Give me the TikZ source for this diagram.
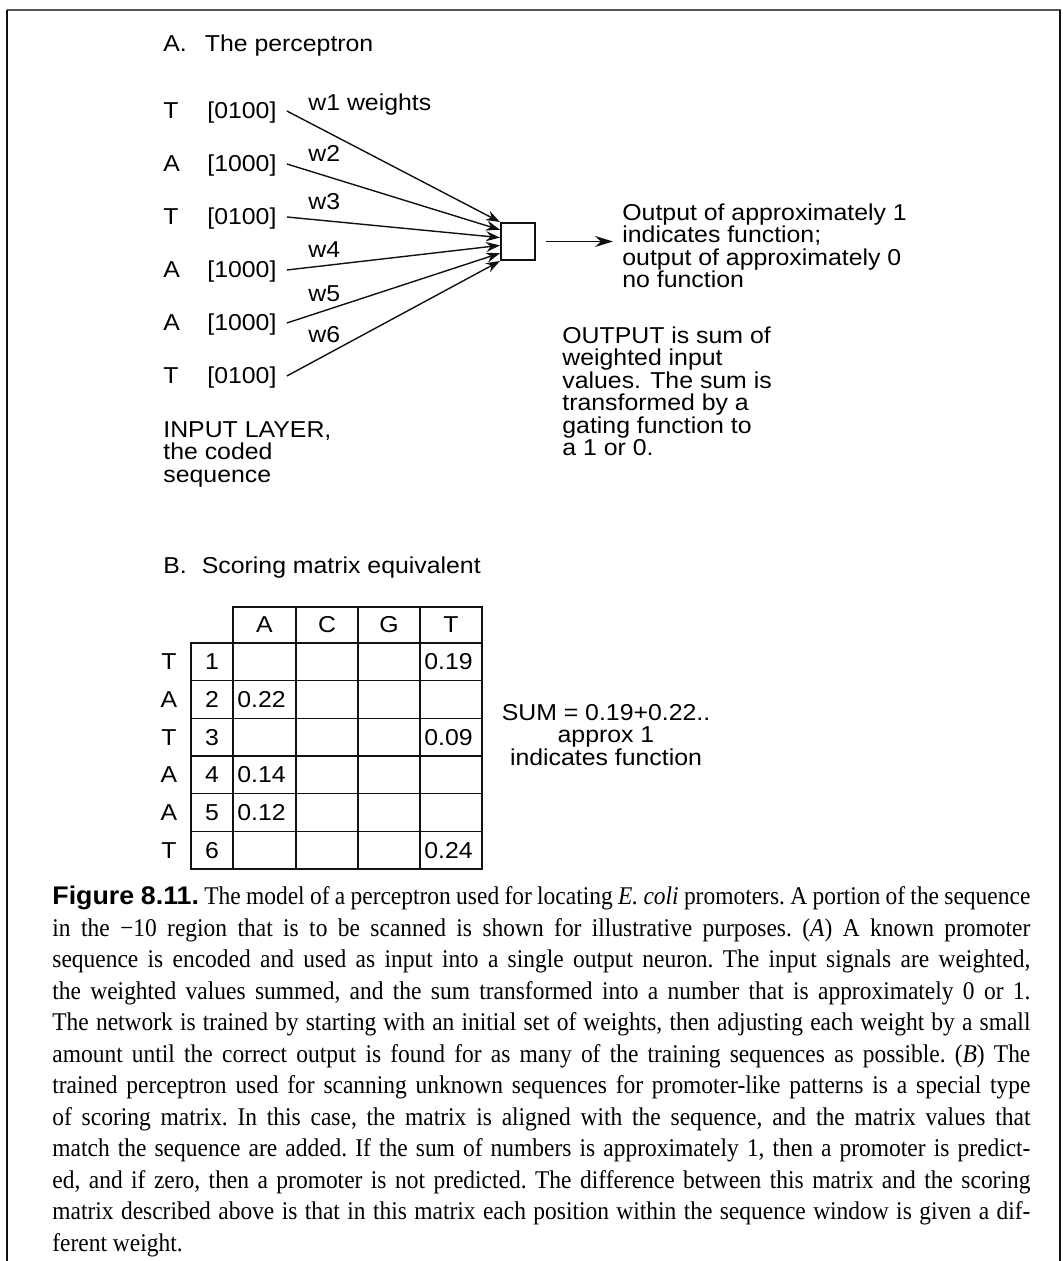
\documentclass[tikz,border=0pt]{standalone}
\usepackage{fontspec}
\setmainfont{Liberation Serif}
\setsansfont{Liberation Sans}[FakeStretch=1.08]
\newfontfamily\capfont{Liberation Serif}[FakeStretch=0.92]
\newfontfamily\capsans{Liberation Sans}[FakeStretch=1.05]
\usetikzlibrary{arrows.meta,positioning,calc}
\definecolor{ink}{HTML}{111111}
\definecolor{framegray}{HTML}{555555}
\newcommand{\figfont}{\sffamily\fontsize{11.5pt}{11.25pt}\selectfont}
\tikzset{
  lbl/.style={font=\figfont,inner sep=0pt,anchor=base west},
  textblock/.style={font=\figfont,inner sep=0pt,anchor=north west,align=left},
  neuronbox/.style={draw=ink,line width=1pt,minimum width=17pt,
                    minimum height=18.5pt,inner sep=0pt},
  inarr/.style={-{Stealth[length=7pt,width=5pt]},line width=0.7pt,draw=ink},
  outarr/.style={-{Stealth[length=9pt,width=5.5pt]},line width=0.9pt,draw=ink},
  cellnum/.style={font=\figfont,inner sep=0pt},
  tabline/.style={draw=ink,line width=0.75pt}
}

\begin{document}
\begin{tikzpicture}[x=0.5pt,y=-0.5pt]
  \useasboundingbox (0,0) rectangle (1062,1261);
  % frame
  \draw[framegray,line width=1pt] (7,10) -- (1060.5,10);
  \draw[ink,line width=0.7pt] (7,10) -- (7,1261);
  \draw[ink,line width=1pt] (1060,10) -- (1060,1261);

  % A. perceptron
  \node[lbl] (titleA) at (163,52) {A.\hspace{9pt}The perceptron};
  \foreach \i/\b/\code in {1/T/0100,2/A/1000,3/T/0100,4/A/1000,5/A/1000,6/T/0100} {
    \node[lbl] (s\i) at (163,{119+53*(\i-1)}) {\b};
    \node[lbl] (c\i) at (207,{119+53*(\i-1)}) {[\code]};
  }
  \node[neuronbox] (neuron) at (518,241.5) {};
  \foreach \i/\f in {1/0,2/0.2,3/0.4,4/0.6,5/0.8,6/1}
    \draw[inarr] ($(c\i.base east)+(10,-8)$) -- ($(neuron.north west)!\f!(neuron.south west)$);
  \node[lbl] (w1) at (308,111) {w1 weights};
  \node[lbl] (w2) at (308,162) {w2};
  \node[lbl] (w3) at (308,210) {w3};
  \node[lbl] (w4) at (308,258) {w4};
  \node[lbl] (w5) at (308,302) {w5};
  \node[lbl] (w6) at (308,343) {w6};
  \draw[outarr] ($(neuron.east)+(10,0)$) -- ($(neuron.east)+(77,0)$) coordinate (outtip);
  \node[textblock] (outtxt) at (622,203)
    {Output of approximately 1\\indicates function;\\output of approximately 0\\no function};
  \node[textblock] (gatetxt) at (562,326)
    {OUTPUT is sum of\\weighted input\\values. The sum is\\transformed by a\\gating function to\\a 1 or 0.};
  \node[textblock] (inlayer) at (163,421) {INPUT LAYER,\\the coded\\sequence};

  % B. scoring matrix
  \node[lbl] (titleB) at (163,573) {B.\hspace{7.5pt}Scoring matrix equivalent};
  \draw[tabline] (233,607) rectangle (482,869);
  \draw[tabline] (191,643) rectangle (482,869);
  \foreach \x in {296,358,420} \draw[tabline] (\x,607) -- (\x,869);
  \foreach \k in {1,...,5} \draw[tabline] (191,{643+37.67*\k}) -- (482,{643+37.67*\k});
  \foreach \n/\x in {A/264.5,C/327,G/389,T/451}
    \node[cellnum] (h\n) at (\x,625) {\n};
  \foreach \i/\b/\val/\col in {1/T/0.19/420,2/A/0.22/233,3/T/0.09/420,4/A/0.14/233,5/A/0.12/233,6/T/0.24/420} {
    \node[cellnum] (r\i) at (169,{662+37.67*(\i-1)}) {\b};
    \node[cellnum] (n\i) at (212,{662+37.67*(\i-1)}) {\i};
    \node[cellnum,anchor=west] (v\i) at ({\col+4},{662+37.67*(\i-1)}) {\val};
  }
  \node[font=\figfont,inner sep=0pt,align=center,anchor=north] (sumeq) at (606,704)
    {SUM = 0.19+0.22..\\approx 1\\indicates function};

  % caption
  \node[anchor=north west,inner sep=0pt,text width=489pt,align=justify,
        font=\capfont\fontsize{12.75pt}{15.75pt}\selectfont\frenchspacing] (caption) at (52,886)
   {{\capsans\bfseries Figure 8.11.} The model of a perceptron used for locating \textit{E. coli} promoters. A portion of the sequence\linebreak
    in the −10 region that is to be scanned is shown for illustrative purposes. (\textit{A}) A known promoter\linebreak
    sequence is encoded and used as input into a single output neuron. The input signals are weighted,\linebreak
    the weighted values summed, and the sum transformed into a number that is approximately 0 or 1.\linebreak
    The network is trained by starting with an initial set of weights, then adjusting each weight by a small\linebreak
    amount until the correct output is found for as many of the training sequences as possible. (\textit{B}) The\linebreak
    trained perceptron used for scanning unknown sequences for promoter-like patterns is a special type\linebreak
    of scoring matrix. In this case, the matrix is aligned with the sequence, and the matrix values that\linebreak
    match the sequence are added. If the sum of numbers is approximately 1, then a promoter is predict-\linebreak
    ed, and if zero, then a promoter is not predicted. The difference between this matrix and the scoring\linebreak
    matrix described above is that in this matrix each position within the sequence window is given a dif-\linebreak
    ferent weight.};
\end{tikzpicture}
\end{document}
